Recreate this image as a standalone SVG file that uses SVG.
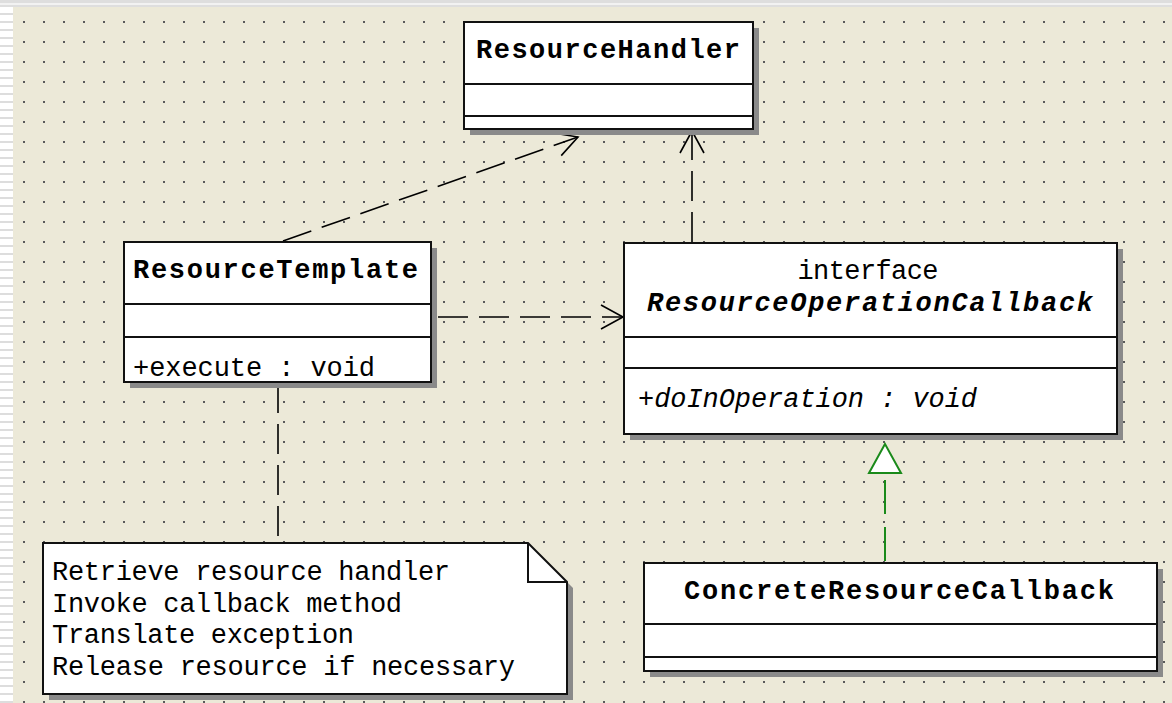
<svg xmlns="http://www.w3.org/2000/svg" width="1172" height="703" viewBox="0 0 1172 703">
  <style>
    .box { fill: #ffffff; stroke: #111111; stroke-width: 2; }
    .shadow { fill: #8a8a8a; }
    .div { stroke: #111111; stroke-width: 2; }
    .t { font-family: "Liberation Mono", "DejaVu Sans Mono", monospace; font-size: 27px; fill: #000000; }
    .b { font-weight: bold; }
    .i { font-style: italic; }
    .dep { fill: none; stroke: #000000; stroke-width: 1.6; stroke-dasharray: 30 11; }
    .real { fill: none; stroke: #1a8a1a; stroke-width: 2; stroke-dasharray: 34 13; }
  </style>
  <defs>
    <pattern id="grid" x="0" y="0" width="20" height="20" patternUnits="userSpaceOnUse">
      <rect x="3" y="1" width="2" height="2" fill="#5a5a5a"/>
    </pattern>
    <pattern id="edge" x="0" y="0" width="14" height="8" patternUnits="userSpaceOnUse">
      <rect x="0" y="0" width="14" height="8" fill="#ffffff"/>
      <rect x="0" y="5" width="14" height="2" fill="#dddddd"/>
    </pattern>
    <marker id="open" markerUnits="userSpaceOnUse" markerWidth="26" markerHeight="28" refX="23" refY="13" orient="auto" overflow="visible">
      <path d="M1,1 L23,13 L1,25" fill="none" stroke="#000000" stroke-width="1.6"/>
    </marker>
  </defs>

  <!-- canvas -->
  <rect x="0" y="0" width="1172" height="703" fill="#ffffff"/>
  <rect x="0" y="0" width="14" height="703" fill="url(#edge)"/>
  <rect x="0" y="0" width="1172" height="7" fill="#dedede"/>
  <rect x="0" y="3" width="1172" height="2" fill="#f2f2f2"/>
  <rect x="13" y="7" width="1159" height="696" fill="#ece9d8"/>
  <rect x="13" y="7" width="1159" height="696" fill="url(#grid)"/>

  <!-- connectors -->
  <g id="connectors">
    <path class="dep" d="M283,241 L578,137" marker-end="url(#open)"/>
    <path class="dep" d="M692,242 L692,131" marker-end="url(#open)"/>
    <path class="dep" d="M438,317 L623,317" marker-end="url(#open)"/>
    <path class="dep" d="M278,383 L278,543"/>
    <path class="real" d="M885,480 L885,563"/>
    <polygon points="885,444 869,473 901,473" fill="#ffffff" stroke="#1a8a1a" stroke-width="2"/>
  </g>

  <g id="ResourceHandler">
    <rect class="shadow" x="470" y="28" width="289" height="107"/>
    <rect class="box" x="464" y="22" width="289" height="107"/>
    <line class="div" x1="464" y1="84" x2="753" y2="84"/>
    <line class="div" x1="464" y1="116" x2="753" y2="116"/>
    <text class="t b" x="608" y="58" text-anchor="middle" textLength="264" lengthAdjust="spacing">ResourceHandler</text>
  </g>

  <g id="ResourceTemplate">
    <rect class="shadow" x="130" y="248" width="307" height="140"/>
    <rect class="box" x="124" y="242" width="307" height="140"/>
    <line class="div" x1="124" y1="304" x2="431" y2="304"/>
    <line class="div" x1="124" y1="337" x2="431" y2="337"/>
    <text class="t b" x="133" y="278" textLength="285" lengthAdjust="spacing">ResourceTemplate</text>
    <text class="t" x="133" y="376" textLength="242" lengthAdjust="spacing">+execute : void</text>
  </g>

  <g id="ResourceOperationCallback">
    <rect class="shadow" x="630" y="249" width="493" height="191"/>
    <rect class="box" x="624" y="243" width="493" height="191"/>
    <line class="div" x1="624" y1="337" x2="1117" y2="337"/>
    <line class="div" x1="624" y1="368" x2="1117" y2="368"/>
    <text class="t" x="868" y="279" text-anchor="middle" textLength="141" lengthAdjust="spacing">interface</text>
    <text class="t b i" x="647" y="311" textLength="446" lengthAdjust="spacing">ResourceOperationCallback</text>
    <text class="t i" x="638" y="407" textLength="339" lengthAdjust="spacing">+doInOperation : void</text>
  </g>

  <g id="ConcreteResourceCallback">
    <rect class="shadow" x="650" y="569" width="513" height="108"/>
    <rect class="box" x="644" y="563" width="513" height="108"/>
    <line class="div" x1="644" y1="624" x2="1157" y2="624"/>
    <line class="div" x1="644" y1="657" x2="1157" y2="657"/>
    <text class="t b" x="899" y="599" text-anchor="middle" textLength="430" lengthAdjust="spacing">ConcreteResourceCallback</text>
  </g>

  <g id="note">
    <polygon class="shadow" points="49,549 534,549 573,588 573,700 49,700"/>
    <polygon class="box" points="43,543 528,543 567,582 567,694 43,694"/>
    <polyline points="528,543 528,582 567,582" fill="none" stroke="#111111" stroke-width="2"/>
    <text class="t" x="52" y="580" textLength="398" lengthAdjust="spacing">Retrieve resource handler</text>
    <text class="t" x="52" y="612" textLength="350" lengthAdjust="spacing">Invoke callback method</text>
    <text class="t" x="52" y="643" textLength="302" lengthAdjust="spacing">Translate exception</text>
    <text class="t" x="52" y="675" textLength="463" lengthAdjust="spacing">Release resource if necessary</text>
  </g>
</svg>
